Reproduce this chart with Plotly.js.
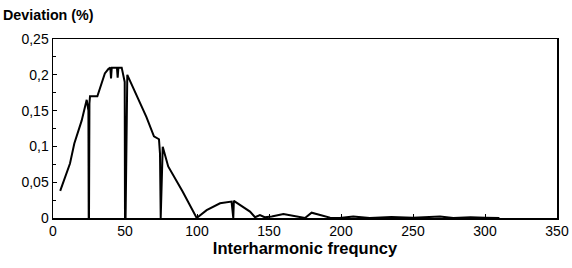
<!DOCTYPE html>
<html><head><meta charset="utf-8">
<script src="https://cdn.plot.ly/plotly-3.0.1.min.js"></script>
<style>html,body{margin:0;padding:0;background:#fff}#c{width:572px;height:268px}</style>
</head><body><div id="c"></div>
<script>
const freq = [5, 11.8, 14.8, 19.9, 23.4, 24.6, 24.8, 25, 25.3, 25.7, 30.8, 36, 38.4, 39.8, 40.3, 40.8, 42, 44.4, 44.9, 45.4, 47.7, 48.8, 49.8, 50, 50.4, 51.6, 58, 64.9, 70.1, 73.6, 74.3, 74.5, 74.8, 76.2, 80, 90, 99.8, 106.7, 116, 124, 124.9, 125.2, 125.6, 131, 136.8, 140.3, 143.7, 147, 151.9, 160, 167, 175, 179.6, 186, 192.4, 199, 208.5, 220, 235, 250, 260, 268.8, 278, 290, 300, 310];
const deviation = [0.038, 0.076, 0.104, 0.136, 0.165, 0.15, 0.0, 0.0, 0.16, 0.17, 0.17, 0.202, 0.208, 0.21, 0.195, 0.21, 0.21, 0.21, 0.196, 0.21, 0.21, 0.197, 0.19, 0.0, 0.0, 0.2, 0.171, 0.141, 0.114, 0.11, 0.09, 0.0, 0.0, 0.0996, 0.072, 0.037, 0.0, 0.011, 0.0205, 0.023, 0.0, 0.0, 0.024, 0.017, 0.009, 0.001, 0.004, 0.001, 0.002, 0.0056, 0.003, 0.0, 0.0074, 0.004, 0.0005, 0.0, 0.002, 0.0, 0.0015, 0.0005, 0.001, 0.002, 0.0, 0.001, 0.0005, 0.0];
const xTitle = "Interharmonic frequncy";
const yTitle = "Deviation (%)";

const font = "Liberation Sans, Arial, sans-serif";
Plotly.newPlot("c", [{
  x: freq, y: deviation, type: "scatter", mode: "lines",
  line: {color: "#000", width: 2}, hoverinfo: "skip"
}], {
  width: 572, height: 268,
  margin: {l: 53, r: 15, t: 39, b: 50},
  paper_bgcolor: "#fff", plot_bgcolor: "#fff",
  separators: ", ",
  showlegend: false,
  font: {family: font, color: "#000", size: 14},
  xaxis: {
    range: [0, 350], dtick: 50, tick0: 0,
    ticks: "inside", ticklen: 4, tickcolor: "#000",
    showgrid: false, zeroline: false,
    showline: true, mirror: true, linecolor: "#000", linewidth: 1.5,
    tickfont: {size: 14, family: font},
    title: {text: xTitle, font: {size: 16.5, family: font, weight: "bold"}, standoff: 4}
  },
  yaxis: {
    range: [0, 0.25], dtick: 0.05, tick0: 0,
    ticks: "inside", ticklen: 4, tickcolor: "#000",
    minor: {dtick: 0.025, ticks: "inside", ticklen: 3, tickcolor: "#000"},
    showgrid: false, zeroline: false,
    showline: true, mirror: true, linecolor: "#000", linewidth: 1.5,
    tickfont: {size: 14, family: font}
  },
  annotations: [{
    text: yTitle, xref: "paper", yref: "paper", x: 0, y: 1,
    xanchor: "left", yanchor: "middle", xshift: -52, yshift: 24,
    showarrow: false, font: {size: 14.3, family: font, weight: "bold", color: "#000"}
  }]
}, {displayModeBar: false, staticPlot: true});
</script>
</body></html>
